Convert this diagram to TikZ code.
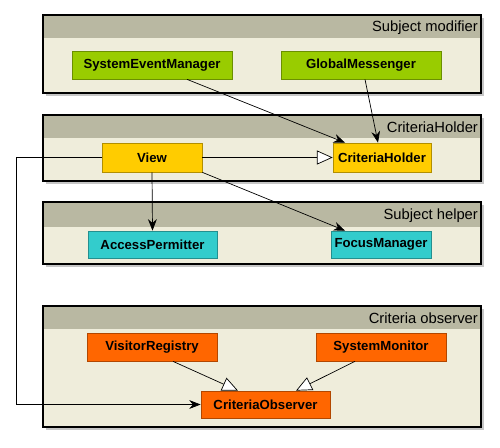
\documentclass[tikz,border=0pt]{standalone}
\usepackage{fontspec}
\setmainfont{Liberation Sans}
\usetikzlibrary{arrows.meta,calc}
\definecolor{grpbody}{HTML}{EFEDDB}
\definecolor{grphead}{HTML}{B9B8A2}
\definecolor{grpshade}{HTML}{C6C6C6}
\definecolor{clsgreen}{HTML}{99CC00}
\definecolor{clsyellow}{HTML}{FFCC00}
\definecolor{clscyan}{HTML}{33CCCC}
\definecolor{clsorange}{HTML}{FF6600}

\begin{document}
\begin{tikzpicture}[x=0.02cm,y=-0.02cm,
	cls/.style={draw=#1!70!black,fill=#1,inner sep=0pt,
		font=\fontsize{7.5}{8}\selectfont\bfseries},
	grptitle/.style={anchor=east,inner sep=1pt,font=\fontsize{8.4}{9}\selectfont},
	use/.style={-{Stealth[length=6.5pt,width=5pt]},thin},
	inherit/.style={-{Triangle[open,length=9pt,width=8pt,fill=white]},thin}]
	\useasboundingbox (0,0) rectangle (500,447);
	
	% packages: top / header bottom / bottom / title
	\foreach \t/\h/\b/\name in {15/38/93/Subject modifier,115/138/181/CriteriaHolder,
		202/227/264/Subject helper,306/329/427/Criteria observer}{
		\fill[grpshade](46,\t+3) rectangle (484,\b+3);
		\fill[grpbody](43,\t) rectangle (481,\b);
		\fill[grphead](43,\t) rectangle (481,\h);
		\draw[line width=0.85pt](43,\t) rectangle (481,\b);
		\node[grptitle] at (480,{(\t+\h)/2+1}) {\name};
	}
	
	\node[cls=clsgreen,minimum width=3.2cm,minimum height=0.56cm] (sem) at (152,65) {SystemEventManager};
	\node[cls=clsgreen,minimum width=3.2cm,minimum height=0.56cm] (gm) at (361,65) {GlobalMessenger};
	\node[cls=clsyellow,minimum width=2cm,minimum height=0.58cm] (view) at (152,157.5) {View};
	\node[cls=clsyellow,minimum width=1.96cm,minimum height=0.58cm] (ch) at (382,157.5) {CriteriaHolder};
	\node[cls=clscyan,minimum width=2.58cm,minimum height=0.54cm] (ap) at (152.5,244.5) {AccessPermitter};
	\node[cls=clscyan,minimum width=2cm,minimum height=0.54cm] (fm) at (381,244.5) {FocusManager};
	\node[cls=clsorange,minimum width=2.6cm,minimum height=0.56cm] (vr) at (152,347) {VisitorRegistry};
	\node[cls=clsorange,minimum width=2.6cm,minimum height=0.56cm] (sm) at (381,347) {SystemMonitor};
	\node[cls=clsorange,minimum width=2.58cm,minimum height=0.54cm] (co) at (265.5,404.5) {CriteriaObserver};
	\coordinate (rail) at (16,0);
	
	\draw[use]($(sem.south)+(35,0)$)--($(ch.north)+(-37,0)$);
	\draw[use]($(gm.south)+(4,0)$)--($(ch.north)+(-4,0)$);
	\draw[inherit](view.east)--(ch.west);
	\draw[use](view.south)--(ap.north);
	\draw[use](view.south east)--($(fm.north)+(-36,0)$);
	\draw[use](view.west)--(view.west -| rail)|-(co.west);
	\draw[inherit]($(vr.south)+(21,0)$)--($(co.north)+(-27.5,0)$);
	\draw[inherit]($(sm.south)+(-26,0)$)--($(co.north)+(30.5,0)$);
\end{tikzpicture}
\end{document}
